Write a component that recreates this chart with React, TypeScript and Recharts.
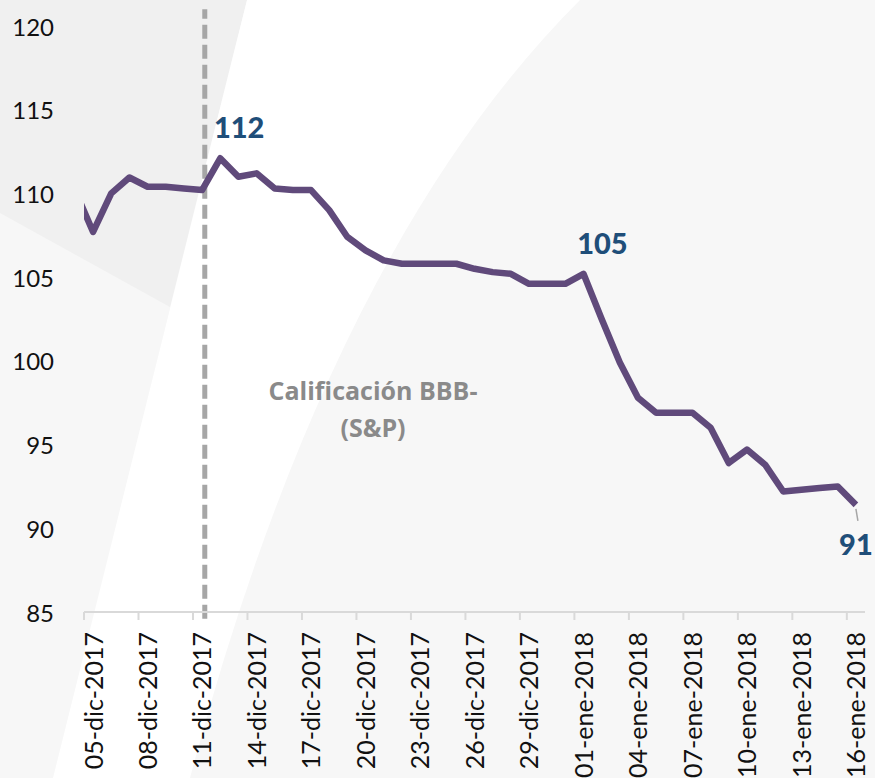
import { LineChart, Line, XAxis, YAxis, ReferenceLine } from "recharts";

// daily closes, 04-dic-2017 .. 16-ene-2018 (04-dic only enters the plot edge)
const dates = [
  "04-dic-2017", "05-dic-2017", "06-dic-2017", "07-dic-2017", "08-dic-2017", "09-dic-2017",
  "10-dic-2017", "11-dic-2017", "12-dic-2017", "13-dic-2017", "14-dic-2017", "15-dic-2017",
  "16-dic-2017", "17-dic-2017", "18-dic-2017", "19-dic-2017", "20-dic-2017", "21-dic-2017",
  "22-dic-2017", "23-dic-2017", "24-dic-2017", "25-dic-2017", "26-dic-2017", "27-dic-2017",
  "28-dic-2017", "29-dic-2017", "30-dic-2017", "31-dic-2017", "01-ene-2018", "02-ene-2018",
  "03-ene-2018", "04-ene-2018", "05-ene-2018", "06-ene-2018", "07-ene-2018", "08-ene-2018",
  "09-ene-2018", "10-ene-2018", "11-ene-2018", "12-ene-2018", "13-ene-2018", "14-ene-2018",
  "15-ene-2018", "16-ene-2018",
];

const values = [
  110.2, 107.7, 110.0, 110.95, 110.4, 110.4, 110.3, 110.2, 112.1, 111.0, 111.2, 110.3,
  110.2, 110.2, 109.0, 107.4, 106.6, 106.0, 105.8, 105.8, 105.8, 105.8, 105.5, 105.3,
  105.2, 104.6, 104.6, 104.6, 105.2, 102.5, 99.9, 97.8, 96.9, 96.9, 96.9, 96.0,
  93.9, 94.7, 93.8, 92.2, 92.3, 92.4, 92.5, 91.4,
];

const tickLabels = [
  "05-dic-2017", "08-dic-2017", "11-dic-2017", "14-dic-2017", "17-dic-2017",
  "20-dic-2017", "23-dic-2017", "26-dic-2017", "29-dic-2017", "01-ene-2018",
  "04-ene-2018", "07-ene-2018", "10-ene-2018", "13-ene-2018", "16-ene-2018",
];

const yTicks = [85, 90, 95, 100, 105, 110, 115, 120];

const labeledDates = ["12-dic-2017", "01-ene-2018", "16-ene-2018"];

const ratingDay = 6.15; // S&P downgrade, between 11 and 12 dic
const noteLines = ["Calificación BBB-", "(S&P)"];

const data = values.map((v, i) => ({ x: i - 1, date: dates[i], value: v }));
const xTicks = tickLabels.map((_, k) => k * 3 - 0.5);

const font = "Lato, 'Open Sans', sans-serif";

const XTick = ({ x, y, index }: any) => {
  const cx = x + 8.5;
  const cy = y + 10;
  return (
    <text
      x={cx}
      y={cy}
      transform={`rotate(-90, ${cx}, ${cy})`}
      textAnchor="end"
      dominantBaseline="central"
      fontFamily={font}
      fontSize={25}
      fill="#111"
    >
      {tickLabels[index]}
    </text>
  );
};

const YTick = ({ x, y, payload }: any) => (
  <text x={x} y={y} textAnchor="end" dominantBaseline="central" fontFamily={font} fontSize={24} fill="#111">
    {payload.value}
  </text>
);

const PointLabel = ({ x, y, index }: any) => {
  const d = data[index];
  if (!d || !labeledDates.includes(d.date)) return null;
  const txt = String(Math.round(d.value));
  const last = index === data.length - 1;
  const dx = last ? 0 : 19;
  const dy = last ? 50 : -20;
  return (
    <g>
      {last && <line x1={x} y1={y + 4} x2={x + 2} y2={y + 16} stroke="#A6A6A6" strokeWidth={1.5} />}
      <text x={x + dx} y={y + dy} textAnchor="middle" fontFamily={font} fontWeight={900} fontSize={29} fill="#1F4E79">
        {txt}
      </text>
    </g>
  );
};

const Background = () => (
  <svg width={875} height={778} style={{ position: "absolute", left: 0, top: 0 }}>
    <rect x={0} y={0} width={875} height={778} fill="#F7F7F7" />
    <polygon points="0,0 247,0 170,307 0,213" fill="#F0F0F0" />
    <path d="M247,0 L580,0 Q330,250 190,778 L53,778 Z" fill="#FFFFFF" />
    <g fontFamily="'Open Sans', sans-serif" fontWeight={700} fontSize={25} fill="#8A8A8A" textAnchor="middle">
      <text x={373} y={400}>{noteLines[0]}</text>
      <text x={373} y={437}>{noteLines[1]}</text>
    </g>
  </svg>
);

export default function App() {
  return (
    <div style={{ position: "absolute", left: 0, top: 0, width: 875, height: 778, overflow: "hidden" }}>
      <Background />
      <div style={{ position: "absolute", left: 0, top: 0 }}>
        <LineChart width={875} height={778} data={data} margin={{ top: 26, right: 10, bottom: 0, left: 0 }}>
          <XAxis
            dataKey="x"
            type="number"
            domain={[-0.5, 42.5]}
            ticks={xTicks}
            allowDataOverflow
            interval={0}
            height={166}
            stroke="#D9D9D9"
            strokeWidth={2}
            tickSize={8}
            tickMargin={2}
            tick={<XTick />}
          />
          <YAxis
            domain={[85, 120]}
            ticks={yTicks}
            width={84}
            axisLine={false}
            tickLine={false}
            tickSize={0}
            tickMargin={30}
            tick={<YTick />}
          />
          <ReferenceLine
            segment={[{ x: ratingDay, y: 84.6 }, { x: ratingDay, y: 121 }]}
            ifOverflow="visible"
            stroke="#A6A6A6"
            strokeWidth={5}
            strokeDasharray="14 6"
          />
          <Line
            dataKey="value"
            stroke="#604A7B"
            strokeWidth={6.5}
            strokeLinejoin="round"
            dot={false}
            isAnimationActive={false}
            label={<PointLabel />}
          />
        </LineChart>
      </div>
    </div>
  );
}
